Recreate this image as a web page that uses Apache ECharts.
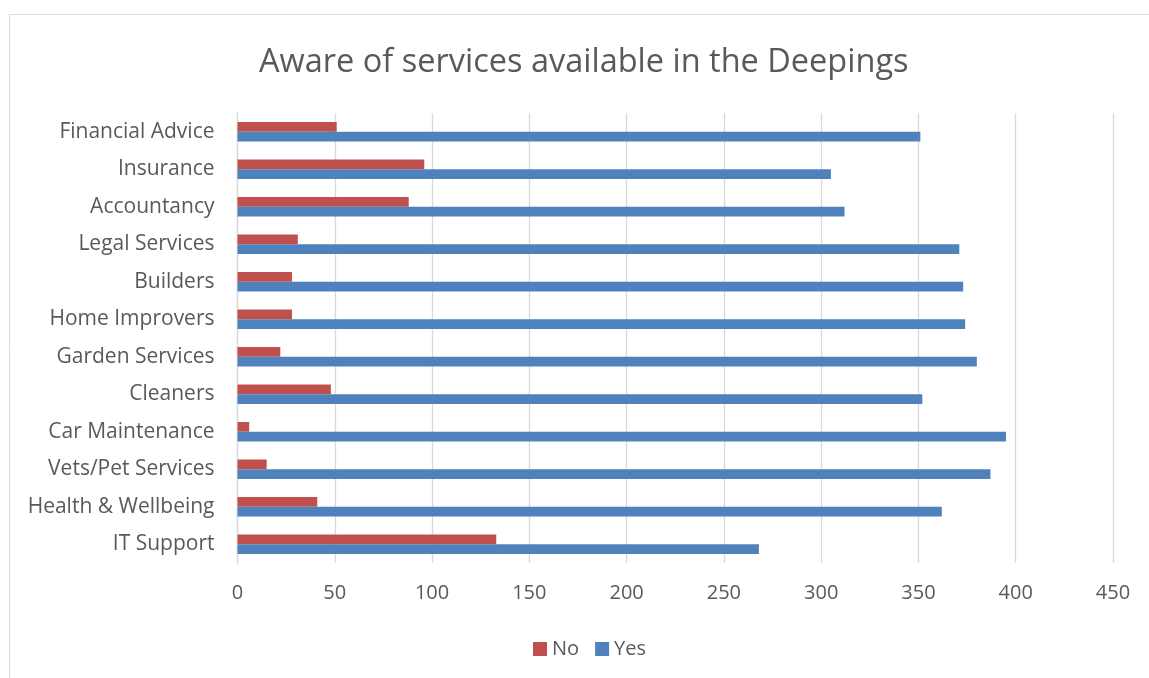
<!DOCTYPE html>
<html>
<head>
<meta charset="utf-8">
<script src="https://cdn.jsdelivr.net/npm/echarts@6/dist/echarts.min.js"></script>
<style>
  html, body { margin: 0; padding: 0; background: #fff; }
  #chart { width: 1149px; height: 678px; }
</style>
</head>
<body>
<div id="chart"></div>
<script>
// categories listed bottom to top (category axis runs upward)
const services = [
  "IT Support", "Health & Wellbeing", "Vets/Pet Services", "Car Maintenance",
  "Cleaners", "Garden Services", "Home Improvers", "Builders",
  "Legal Services", "Accountancy", "Insurance", "Financial Advice"
]
const noValues = [133, 41, 15, 6, 48, 22, 28, 28, 31, 88, 96, 51]
const yesValues = [268, 362, 387, 395, 352, 380, 374, 373, 371, 312, 305, 351]
const xTicks = [0, 50, 100, 150, 200, 250, 300, 350, 400, 450]

const textColor = "#595959"
const font = "Open Sans"

const chart = echarts.init(document.getElementById("chart"))

chart.setOption({
  animation: false,
  textStyle: { fontFamily: font },
  title: {
    text: "Aware of services available in the Deepings",
    left: 254,
    top: 41,
    textStyle: { color: textColor, fontSize: 32.5, fontWeight: "normal", fontFamily: font }
  },
  graphic: [{
    type: "rect",
    shape: { x: 9.5, y: 14.5, width: 1160, height: 700 },
    style: { fill: "none", stroke: "#D9D9D9", lineWidth: 1 },
    silent: true
  }],
  legend: {
    data: ["No", "Yes"],
    bottom: 14,
    left: 528,
    itemWidth: 14,
    itemHeight: 14,
    itemGap: 16,
    icon: "rect",
    textStyle: { color: textColor, fontSize: 20, fontFamily: font }
  },
  grid: { left: 237.5, right: 36, top: 113, bottom: 115, containLabel: false },
  xAxis: {
    type: "value",
    min: xTicks[0],
    max: xTicks[xTicks.length - 1],
    interval: 50,
    axisLine: { show: false },
    axisTick: { show: false },
    splitLine: { lineStyle: { color: "#D9D9D9", width: 1.3 } },
    axisLabel: { color: textColor, fontSize: 20, margin: 20, fontFamily: font }
  },
  yAxis: {
    type: "category",
    data: services,
    axisLine: { lineStyle: { color: "#D9D9D9", width: 1.3 } },
    axisTick: { show: false },
    axisLabel: { color: textColor, fontSize: 21, margin: 23, fontFamily: font }
  },
  series: [
    {
      name: "No",
      type: "bar",
      data: noValues,
      barGap: "0%",
      barCategoryGap: "48%",
      itemStyle: { color: "#C0504D" }
    },
    {
      name: "Yes",
      type: "bar",
      data: yesValues,
      barGap: "0%",
      barCategoryGap: "48%",
      itemStyle: { color: "#4F81BD" }
    }
  ]
})
</script>
</body>
</html>
